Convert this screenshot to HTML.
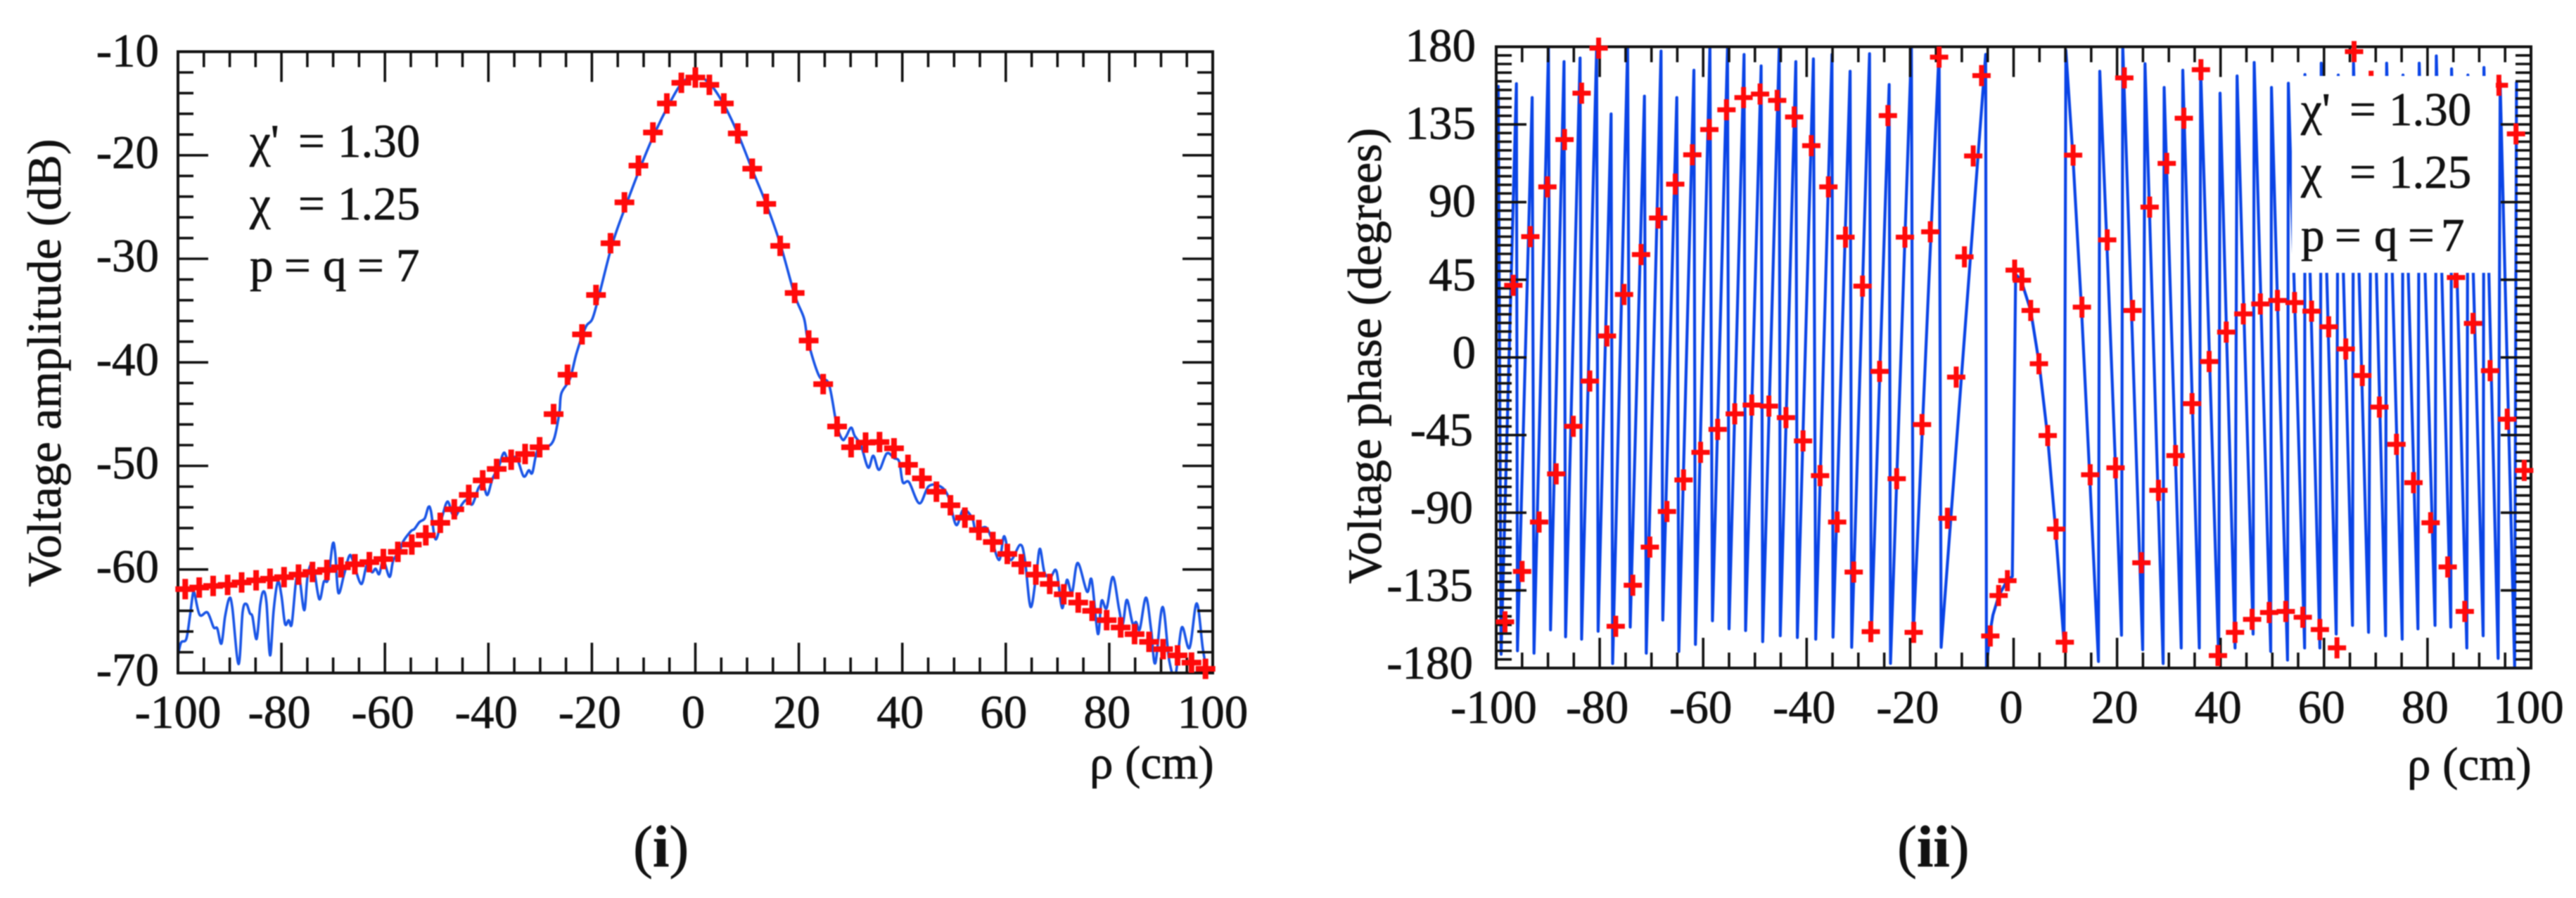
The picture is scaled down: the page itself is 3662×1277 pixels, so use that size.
<!DOCTYPE html>
<html lang="en">
<head>
<meta charset="utf-8">
<title>Voltage amplitude and phase versus rho</title>
<style>
html,body{margin:0;padding:0;background:#fff;}
svg{display:block;filter:blur(0.7px);}
text{font-family:"Liberation Serif","DejaVu Serif",serif;fill:#111;stroke:#111;stroke-width:0.7px;}
</style>
</head>
<body>
<svg id="fig" xmlns="http://www.w3.org/2000/svg" width="3662" height="1277" viewBox="0 0 3662 1277">
  <rect x="0" y="0" width="3662" height="1277" fill="#fff"/>
  <defs>
    <clipPath id="clipA"><rect x="253" y="73.5" width="1471" height="883.5"/></clipPath>
    <clipPath id="clipB"><rect x="2127" y="66.5" width="1471" height="883.5"/></clipPath>
  </defs>
  <g id="panelA"></g>
  <g id="panelB"></g>

  <g font-size="67">
    <text y="223"><tspan x="355">χ'</tspan><tspan x="424">=</tspan><tspan x="480">1.30</tspan></text>
    <text y="312"><tspan x="355">χ</tspan><tspan x="424">=</tspan><tspan x="480">1.25</tspan></text>
    <text y="400"><tspan x="355">p</tspan><tspan x="404">=</tspan><tspan x="459">q</tspan><tspan x="508">=</tspan><tspan x="563">7</tspan></text>
  </g>

  <text font-size="68" text-anchor="middle" transform="translate(86 516) rotate(-90)">Voltage amplitude (dB)</text>
  <text font-size="67" x="1549" y="1107">ρ (cm)</text>
  <text font-size="68" text-anchor="middle" transform="translate(1963 506) rotate(-90)">Voltage phase (degrees)</text>
  <text font-size="67" x="3422" y="1109">ρ (cm)</text>

  <text font-size="84" x="900" y="1232">(<tspan font-weight="bold">i</tspan>)</text>
  <text font-size="84" x="2697" y="1232">(<tspan font-weight="bold">ii</tspan>)</text>
</svg>

<script>
// ---------- Panel (i) data: voltage amplitude ----------
const ampLineCm = [-100,-99.4,-98.4,-97.7,-97.1,-96.8,-95.8,-94.3,-93.1,-92.4,-91.6,-90.9,-90.1,-89.5,-88.3,-87.5,-86.8,-86.1,-85.6,-84.8,-84.1,-83.5,-82.9,-82.2,-81.5,-80.7,-80.0,-79.3,-78.6,-78.0,-77.2,-76.6,-75.6,-74.9,-73.9,-72.7,-71.8,-71.0,-70.1,-69.6,-69.0,-67.9,-66.9,-66.2,-64.6,-63.5,-62.5,-61.8,-61.1,-60.3,-59.1,-58.4,-57.2,-56.5,-55.0,-54.3,-53.3,-52.3,-51.6,-51.1,-50.2,-48.9,-47.9,-47.0,-46.3,-45.1,-44.1,-43.1,-41.9,-41.0,-40.2,-39.2,-38.0,-37.0,-36.1,-34.6,-33.2,-32.2,-31.5,-30.5,-28.6,-27.3,-26.3,-25.9,-24.25,-22.95,-21.2,-19.9,-18.6,-16.0,-13.2,-10.5,-7.8,-5.0,-2.6,0.0,2.7,5.4,8.2,11.0,13.7,16.4,19.2,21.0,21.8,23.9,25.8,27.3,28.4,29.1,30.1,30.8,32.0,33.4,34.4,35.5,37.0,38.4,39.4,40.1,41.3,43.3,45.1,47.3,48.9,50.4,51.8,53.5,54.2,56.1,57.1,58.7,59.7,60.9,62.8,63.7,64.8,65.9,66.6,67.5,68.7,69.8,70.9,71.8,72.8,73.9,75.7,76.6,77.8,78.5,79.5,80.7,81.9,82.6,83.4,84.5,85.2,85.9,87.1,88.1,88.9,90.3,91.6,92.8,94.0,95.5,96.9,98.1,99.0,99.8];
const ampLineDb = [-68.3,-67.06,-66.72,-64.57,-62.31,-62.31,-64.39,-64.16,-65.59,-65.7,-67.17,-64.57,-62.81,-63.67,-69.14,-64.12,-63.33,-64.23,-64.57,-66.72,-63.44,-62.13,-63.21,-68.3,-63.89,-61.18,-62.53,-65.25,-64.91,-65.25,-61.18,-60.5,-63.94,-60.5,-59.59,-62.87,-61.18,-60.95,-57.56,-58.46,-62.26,-60.5,-58.69,-59.14,-61.4,-59.59,-60.27,-59.93,-60.45,-59.14,-60.72,-59.14,-58.24,-57.33,-56.31,-56.09,-55.41,-55.07,-53.98,-54.39,-57.1,-54.84,-53.44,-54.62,-54.84,-53.71,-53.26,-53.71,-52.13,-51.79,-52.81,-51.22,-50.09,-48.73,-49.52,-49.19,-51.0,-50.43,-50.66,-48.51,-48.17,-47.38,-44.9,-43.0,-41.6,-39.1,-36.6,-35.8,-33.5,-28.5,-24.55,-21.0,-17.8,-15.0,-13.05,-12.3,-13.05,-15.0,-17.9,-21.4,-24.7,-28.55,-33.5,-35.75,-38.0,-41.3,-42.1,-46.0,-47.44,-47.2,-46.31,-47.1,-48.0,-50.16,-49.02,-50.38,-48.8,-49.25,-49.59,-51.58,-51.58,-53.62,-51.97,-51.97,-52.98,-55.7,-54.23,-55.02,-56.15,-55.93,-56.83,-59.09,-56.79,-59.09,-57.62,-59.09,-63.62,-60.45,-58.01,-60.34,-60.68,-60.18,-63.73,-61.02,-62.26,-59.37,-62.15,-61.02,-66.22,-63.05,-63.73,-60.72,-63.85,-65.32,-62.94,-65.2,-65.09,-65.77,-62.72,-65.88,-69.05,-63.62,-68.82,-70.18,-65.61,-67.58,-63.28,-67.69,-69.96,-70.18];
const ampMarkCm = [-98.6,-95.9,-93.2,-90.4,-87.7,-84.9,-82.2,-79.5,-76.7,-74.0,-71.2,-68.5,-65.8,-63.0,-60.3,-57.5,-54.8,-52.1,-49.3,-46.6,-43.8,-41.1,-38.4,-35.6,-32.9,-30.1,-27.4,-24.7,-21.9,-19.2,-16.4,-13.7,-11.0,-8.2,-5.5,-2.7,0,2.7,5.5,8.2,11.0,13.7,16.4,19.2,21.9,24.7,27.4,30.1,32.9,35.6,38.4,41.1,43.8,46.6,49.3,52.1,54.8,57.5,60.3,63.0,65.8,68.5,71.2,74.0,76.7,79.5,82.2,84.9,87.7,90.4,93.2,95.9,98.6];
const ampMarkDb = [-61.9,-61.75,-61.6,-61.5,-61.25,-61.05,-60.9,-60.75,-60.5,-60.25,-60.05,-59.8,-59.5,-59.3,-59.0,-58.3,-57.6,-56.7,-55.5,-54.2,-52.8,-51.4,-50.3,-49.4,-48.85,-48.2,-45.0,-41.2,-37.3,-33.5,-28.5,-24.55,-21.0,-17.8,-15.0,-13.0,-12.5,-13.2,-15.0,-17.9,-21.3,-24.7,-28.75,-33.3,-37.9,-42.1,-46.2,-48.2,-47.75,-47.7,-48.3,-49.9,-51.2,-52.5,-53.8,-55.0,-56.2,-57.35,-58.5,-59.5,-60.5,-61.4,-62.4,-63.2,-64.0,-64.9,-65.6,-66.25,-67.0,-67.7,-68.3,-69.0,-69.6];
const ampXTicks = [-100,-80,-60,-40,-20,0,20,40,60,80,100];
const ampYTicks = [-10,-20,-30,-40,-50,-60,-70];

// ---------- Panel (ii) data: voltage phase ----------
const phaseLineCm = [-100,-99.6,-99.06,-96.1,-95.9,-93.05,-92.7,-89.9,-89.5,-86.9,-86.6,-83.8,-83.5,-80.6,-80.3,-77.8,-77.5,-74.6,-74.1,-71.35,-71.0,-68.15,-67.8,-65.1,-64.7,-61.8,-61.5,-58.7,-58.2,-55.3,-55.0,-52.1,-51.8,-48.8,-48.5,-45.3,-45.1,-42.1,-41.8,-38.7,-38.25,-35.1,-34.9,-31.6,-31.3,-27.85,-27.5,-24.05,-23.8,-19.75,-19.4,-14.4,-14.0,-5.4,-5.25,-4.65,-4.0,-2.85,-1.25,-0.25,0.4,1.45,3.3,4.95,6.55,8.1,9.75,10.1,11.45,13.1,14.7,16.4,16.65,18.0,19.7,20.85,21.1,24.95,25.4,28.9,29.1,32.4,32.7,35.9,36.15,39.65,39.9,42.8,43.2,46.3,46.5,49.7,49.85,52.95,53.1,56.25,56.3,59.2,59.45,62.35,62.75,65.5,65.7,68.6,69.15,71.9,72.1,75.1,75.25,78.15,78.4,81.45,81.7,84.5,84.65,87.6,87.8,90.75,90.9,93.65,94.05,96.85,97.2,99.7,100];
const phaseLineDeg = [20,157,-172,158.6,-170,150.6,-171.4,178.8,-157.9,171.4,-161.9,173.5,-163.3,178,-158.7,141.1,-177.4,179.7,-156.3,151.4,-171.4,177.5,-152.2,150.6,-170.4,166.4,-166.3,179.7,-152.6,178.8,-157.3,175.5,-158.3,168.9,-164.7,178.8,-161.3,171.4,-162.3,173,-163.3,175.6,-162.1,165.8,-168,176,-161,158.1,-177.3,179.4,-161,178,-168,175.6,-179.7,-161,-149.3,-138,-129.4,-127,48.2,44.7,27.2,-3.7,-45.3,-99.5,-165.6,178,117.2,29.1,-68,-176.2,165.8,68.1,-64,-161,179.7,-169.4,170.2,-177.4,156.4,-168.4,166.4,-168.4,167.2,-174.4,153.1,-168.4,163.1,-160.3,170.9,-170.4,156.4,-175.4,158.9,-168.4,163.9,-168.4,170.5,-160.3,163.6,-155.3,170.5,-159.3,163.6,-161.3,170.5,-163.3,163.6,-157.3,170.5,-155.3,174.7,-156.3,167.2,-168.4,163.6,-161.3,168,-174.4,159.7,-179.4,159.7];
const phaseMarkCm = [-98.3,-96.7,-95.0,-93.4,-91.7,-90.1,-88.4,-86.8,-85.1,-83.5,-81.9,-80.2,-78.6,-76.9,-75.3,-73.6,-72.0,-70.3,-68.7,-67.0,-65.4,-63.8,-62.1,-60.5,-58.8,-57.2,-55.5,-53.9,-52.2,-50.6,-49.0,-47.3,-45.7,-44.0,-42.4,-40.7,-39.1,-37.4,-35.8,-34.1,-32.5,-30.9,-29.2,-27.6,-25.9,-24.3,-22.6,-21.0,-19.3,-17.7,-16.1,-14.4,-12.8,-11.1,-9.5,-7.8,-6.2,-4.5,-2.9,-1.2,0.2,1.6,3.3,4.9,6.6,8.2,9.9,11.5,13.2,14.8,18.1,19.7,21.4,23.0,24.7,26.3,28.0,29.6,31.3,32.9,34.5,36.2,37.8,39.5,41.1,42.8,44.4,46.1,47.7,49.4,51.0,52.6,54.3,55.9,57.6,59.2,60.9,62.5,64.2,65.8,67.4,69.1,70.7,72.4,74.0,75.7,77.3,79.0,80.6,82.3,83.9,85.5,87.2,88.8,92.1,93.8,95.4,97.1,98.7];
const phaseMarkDeg = [-153.2,41.8,-124,70,-95.4,98.8,-67.5,126.2,-39.9,153.1,-13.7,179.2,12.4,-155.8,36.5,-132,59.6,-109.9,80.8,-89.3,100.4,-71,117.4,-55,132,-41.7,143.5,-32.7,150.6,-27.6,152.6,-28.2,148.9,-34.9,139.3,-48.4,122.7,-68.5,98.8,-95.4,69.7,-124.4,41.3,-158.9,-8.1,140.1,-70.3,69.7,-159.3,-38.95,72.8,174,-93.2,-11.4,58.3,116.7,163.3,-161.4,-138,-129.4,50.6,44.7,27.2,-3.7,-45.3,-99.5,-165,117.2,29.1,-68,68.1,-64,162,27.2,-119,87.1,-77,112.4,-56.9,138.6,-26.8,166.7,-2.4,-172.8,14.7,-159.3,25.2,-151.8,31,-147.8,33,-147.2,31.8,-150.6,26.8,-157.7,17.7,-168.3,4.9,177.2,-10.5,160,-28.8,150,-50.4,130,-72.6,108,-95.8,80,-121.4,46.3,-147.2,19.7,-7.7,157.7,-35.8,129.5,-65.5];
const phaseXTicks = [-100,-80,-60,-40,-20,0,20,40,60,80,100];
const phaseYTicks = [180,135,90,45,0,-45,-90,-135,-180];

const SVGNS = 'http://www.w3.org/2000/svg';
const fig = document.getElementById('fig');
const panelA = document.getElementById('panelA');
const panelB = document.getElementById('panelB');

// ---------- Axis functions ----------
const ampX = v => 253 + (v + 100) * 1471 / 200;
const ampY = v => 73.5 + (-10 - v) * 883.5 / 60;
const phaseX = v => 2127 + (v + 100) * 1471 / 200;
const phaseY = v => 66.5 + (180 - v) * 883.5 / 360;

function make(tag, attrs) {
  const el = document.createElementNS(SVGNS, tag);
  for (const k in attrs) el.setAttribute(k, attrs[k]);
  return el;
}

function smoothPath(px, py) {
  let d = 'M' + px[0].toFixed(1) + ' ' + py[0].toFixed(1);
  for (let i = 0; i < px.length - 1; i++) {
    const a = Math.max(i - 1, 0), b = Math.min(i + 2, px.length - 1);
    const c1x = px[i] + (px[i + 1] - px[a]) / 6, c1y = py[i] + (py[i + 1] - py[a]) / 6;
    const c2x = px[i + 1] - (px[b] - px[i]) / 6, c2y = py[i + 1] - (py[b] - py[i]) / 6;
    d += 'C' + c1x.toFixed(1) + ' ' + c1y.toFixed(1) + ' ' + c2x.toFixed(1) + ' ' + c2y.toFixed(1) + ' ' + px[i + 1].toFixed(1) + ' ' + py[i + 1].toFixed(1);
  }
  return d;
}

function drawTicks(parent, L, R, T, B, xv, yv, xMinorStep, yMinorStep, xDomain, yDomain, sx, sy) {
  let d = '';
  const MAJ = 43, MIN = 22;
  for (let v = xDomain[0]; v <= xDomain[1] + 1e-6; v += xMinorStep) {
    const major = xv.indexOf(v) >= 0;
    const len = major ? MAJ : MIN;
    const x = sx(v).toFixed(1);
    d += 'M' + x + ' ' + T + 'v' + len + 'M' + x + ' ' + B + 'v' + (-len);
  }
  for (let v = yDomain[0]; v <= yDomain[1] + 1e-6; v += yMinorStep) {
    const major = yv.indexOf(v) >= 0;
    const len = major ? MAJ : MIN;
    const y = sy(v).toFixed(1);
    d += 'M' + L + ' ' + y + 'h' + len + 'M' + R + ' ' + y + 'h' + (-len);
  }
  const ticks = make('path', {d: d, fill: 'none', stroke: '#111', 'stroke-width': 3.6});
  
  
  parent.appendChild(ticks);
  const frame = make('rect', {x: L, y: T, width: R - L, height: B - T, fill: 'none', stroke: '#111', 'stroke-width': 4});
  
  
  parent.appendChild(frame);
}

function drawMarkers(parent, xs, ys, sx, sy, w, h, sw) {
  const g = make('g', {});
  
  
  for (let i = 0; i < xs.length; i++) {
    const x = sx(xs[i]), y = sy(ys[i]);
    const m = make('path', {
      d: 'M' + (x - w / 2).toFixed(1) + ' ' + y.toFixed(1) + 'h' + w + 'M' + x.toFixed(1) + ' ' + (y - h / 2).toFixed(1) + 'v' + h,
      stroke: '#ff0a0a', 'stroke-width': sw, fill: 'none'
    });
    
    
    g.appendChild(m);
  }
  parent.appendChild(g);
}

function drawLabel(parent, txt, x, y, anchor) {
  const t = make('text', {x: x, y: y, 'font-size': 67, 'text-anchor': anchor});
  
  
  t.textContent = txt;
  parent.appendChild(t);
}

// ---------- Panel (i) ----------
const ampLine = make('path', {
  d: smoothPath(ampLineCm.map(ampX), ampLineDb.map(ampY)),
  fill: 'none', stroke: '#1a55e6', 'stroke-width': 3.6, 'clip-path': 'url(#clipA)', 'stroke-linejoin': 'round'
});


panelA.appendChild(ampLine);
drawTicks(panelA, 253, 1724, 73.5, 957, ampXTicks, ampYTicks, 5, 2, [-100, 100], [-70, -10], ampX, ampY);
drawMarkers(panelA, ampMarkCm, ampMarkDb, ampX, ampY, 28, 29, 8);
ampXTicks.forEach(v => drawLabel(panelA, String(v), ampX(v) - (v === -100 || v === 100 ? 0 : 3), 1035, 'middle'));
ampYTicks.forEach(v => drawLabel(panelA, String(v), 226, ampY(v) + (v === -10 ? 21 : 18), 'end'));

// ---------- Panel (ii) ----------
const phaseLine = make('polyline', {
  points: phaseLineCm.map((c, i) => phaseX(c).toFixed(1) + ',' + phaseY(phaseLineDeg[i]).toFixed(1)).join(' '),
  fill: 'none', stroke: '#0a44e6', 'stroke-width': 4.2, 'clip-path': 'url(#clipB)', 'stroke-linejoin': 'round'
});


panelB.appendChild(phaseLine);
drawTicks(panelB, 2127, 3598, 66.5, 950, phaseXTicks, phaseYTicks, 5, 5, [-100, 100], [-180, 180], phaseX, phaseY);
drawMarkers(panelB, phaseMarkCm, phaseMarkDeg, phaseX, phaseY, 26, 30, 7);
phaseXTicks.forEach(v => drawLabel(panelB, String(v), phaseX(v) - 3.5, 1028, 'middle'));
phaseYTicks.forEach(v => drawLabel(panelB, String(v), v < 0 ? 2094 : 2098, phaseY(v) + (v >= 90 ? 20.5 : 15), 'end'));

// Annotation box over the phase line, then the annotation text
const box = make('rect', {x: 3258, y: 108, width: 290, height: 280, fill: '#fff'});


panelB.appendChild(box);
const notes = make('g', {'font-size': 67});


notes.innerHTML =
  '<text y="178"><tspan x="3271">χ\'</tspan><tspan x="3340">=</tspan><tspan x="3396">1.30</tspan></text>' +
  '<text y="267"><tspan x="3271">χ</tspan><tspan x="3340">=</tspan><tspan x="3396">1.25</tspan></text>' +
  '<text y="357"><tspan x="3271">p</tspan><tspan x="3319">=</tspan><tspan x="3375">q</tspan><tspan x="3423">=</tspan><tspan x="3470">7</tspan></text>';
panelB.appendChild(notes);
</script>
</body>
</html>
